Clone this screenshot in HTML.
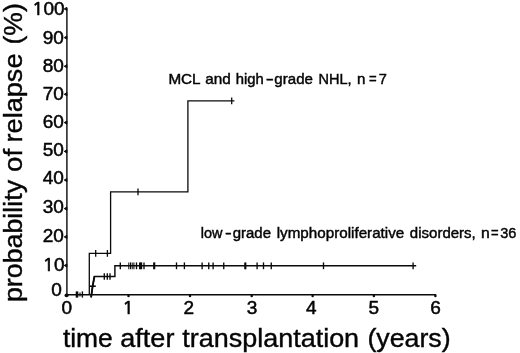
<!DOCTYPE html>
<html><head><meta charset="utf-8"><title>Probability of relapse</title>
<style>
html,body{margin:0;padding:0;background:#fff}
body{width:520px;height:353px;overflow:hidden}
svg{display:block}
</style></head><body>
<svg width="520" height="353" viewBox="0 0 520 353">
<rect width="520" height="353" fill="#fff"/>
<g fill="none" stroke="#0a0a0a" stroke-width="1.15" stroke-linecap="butt">
<path d="M66.9 8.2 V294.7 H436.2" stroke-width="1.4" stroke-linejoin="miter"/>
<path d="M89.3 295 V253.4 H110.6 V191.8 H187.9 V100.8 H234.4" stroke-width="1.3"/>
<path d="M95.7 250.0 V256.8" stroke-width="1.3"/>
<path d="M107.4 250.0 V256.8" stroke-width="1.3"/>
<path d="M138 188.4 V195.2" stroke-width="1.3"/>
<path d="M231.7 97.4 V104.2" stroke-width="1.3"/>
<path d="M91.1 297.4 L92.6 286.5 L94.4 276.5 H114.9 V265.8 H416.2" stroke-width="1.45"/>
<path d="M91.1 297.4 L92.6 286.5 L94.4 276.5" stroke-width="1.8"/>
<path d="M90 286.2 H95.8" stroke-width="1.6"/>
<path d="M77 291.4 V297.6" stroke-width="2.6"/>
<path d="M82.4 291.4 V297.6" stroke-width="1.4"/>
<path d="M80 292.6 V296.4"/>
<path d="M104.3 273.2 V279.8" stroke-width="1.35"/>
<path d="M107.3 273.2 V279.8" stroke-width="1.35"/>
<path d="M110 273.2 V279.8" stroke-width="1.35"/>
<path d="M128.8 262.4 V269.2" stroke-width="1.05"/>
<path d="M130.5 262.4 V269.2" stroke-width="1.05"/>
<path d="M132.2 262.4 V269.2" stroke-width="1.05"/>
<path d="M133.9 262.4 V269.2" stroke-width="1.05"/>
<path d="M120.3 262.4 V269.2" stroke-width="1.35"/>
<path d="M136.5 262.4 V269.2" stroke-width="1.35"/>
<path d="M139.7 262.4 V269.2" stroke-width="1.35"/>
<path d="M140.6 262.4 V269.2" stroke-width="1.35"/>
<path d="M141.5 262.4 V269.2" stroke-width="1.35"/>
<path d="M144 262.4 V269.2" stroke-width="1.35"/>
<path d="M153.8 262.4 V269.2" stroke-width="1.35"/>
<path d="M154.6 262.4 V269.2" stroke-width="1.35"/>
<path d="M176.5 262.4 V269.2" stroke-width="1.35"/>
<path d="M184.4 262.4 V269.2" stroke-width="1.35"/>
<path d="M202.1 262.4 V269.2" stroke-width="1.35"/>
<path d="M208.75 262.4 V269.2" stroke-width="1.35"/>
<path d="M213.1 262.4 V269.2" stroke-width="1.35"/>
<path d="M223.75 262.4 V269.2" stroke-width="1.35"/>
<path d="M244.9 262.4 V269.2" stroke-width="1.35"/>
<path d="M245.7 262.4 V269.2" stroke-width="1.35"/>
<path d="M257.1 262.4 V269.2" stroke-width="1.35"/>
<path d="M263.5 262.4 V269.2" stroke-width="1.35"/>
<path d="M271.25 262.4 V269.2" stroke-width="1.35"/>
<path d="M323.5 262.4 V269.2" stroke-width="1.35"/>
<path d="M413.1 262.4 V269.2" stroke-width="1.35"/>
</g>
<g fill="#0a0a0a">
<path d="M64.2 8.9 L66.9 7.30 V10.50 Z" stroke="#0a0a0a" stroke-width="0.9" stroke-linejoin="round"/>
<path d="M64.2 37.6 L66.9 36.00 V39.20 Z" stroke="#0a0a0a" stroke-width="0.9" stroke-linejoin="round"/>
<path d="M64.2 66.25 L66.9 64.65 V67.85 Z" stroke="#0a0a0a" stroke-width="0.9" stroke-linejoin="round"/>
<path d="M64.2 94.25 L66.9 92.65 V95.85 Z" stroke="#0a0a0a" stroke-width="0.9" stroke-linejoin="round"/>
<path d="M64.2 122.6 L66.9 121.00 V124.20 Z" stroke="#0a0a0a" stroke-width="0.9" stroke-linejoin="round"/>
<path d="M64.2 151.4 L66.9 149.80 V153.00 Z" stroke="#0a0a0a" stroke-width="0.9" stroke-linejoin="round"/>
<path d="M64.2 180.1 L66.9 178.50 V181.70 Z" stroke="#0a0a0a" stroke-width="0.9" stroke-linejoin="round"/>
<path d="M64.2 208.6 L66.9 207.00 V210.20 Z" stroke="#0a0a0a" stroke-width="0.9" stroke-linejoin="round"/>
<path d="M64.2 236.9 L66.9 235.30 V238.50 Z" stroke="#0a0a0a" stroke-width="0.9" stroke-linejoin="round"/>
<path d="M64.2 265.5 L66.9 263.90 V267.10 Z" stroke="#0a0a0a" stroke-width="0.9" stroke-linejoin="round"/>
<ellipse cx="128.5" cy="295.9" rx="1.25" ry="1.35"/>
<ellipse cx="190.0" cy="295.9" rx="1.25" ry="1.35"/>
<ellipse cx="251.7" cy="295.9" rx="1.25" ry="1.35"/>
<ellipse cx="312.6" cy="295.9" rx="1.25" ry="1.35"/>
<ellipse cx="373.9" cy="295.9" rx="1.25" ry="1.35"/>
<ellipse cx="435.4" cy="295.9" rx="1.25" ry="1.35"/>
<ellipse cx="66.6" cy="295.4" rx="2.1" ry="1.8"/>
</g>
<g fill="#050505" stroke="#050505" stroke-width="0.4" font-family="'Liberation Sans', Arial, sans-serif">
<text x="0" y="0" font-size="18.2" text-anchor="end" stroke-width="0.5" transform="translate(63.9 14.5) scale(1.045 1)"><tspan font-family="NanumGothic, 'Liberation Sans', sans-serif" stroke-width="0.75" dx="0.7">1</tspan>00</text>
<text x="0" y="0" font-size="18.2" text-anchor="end" stroke-width="0.5" transform="translate(63.9 44.2) scale(1.045 1)">90</text>
<text x="0" y="0" font-size="18.2" text-anchor="end" stroke-width="0.5" transform="translate(63.9 72.1) scale(1.045 1)">80</text>
<text x="0" y="0" font-size="18.2" text-anchor="end" stroke-width="0.5" transform="translate(63.9 99.5) scale(1.045 1)">70</text>
<text x="0" y="0" font-size="18.2" text-anchor="end" stroke-width="0.5" transform="translate(63.9 128.1) scale(1.045 1)">60</text>
<text x="0" y="0" font-size="18.2" text-anchor="end" stroke-width="0.5" transform="translate(63.9 156.0) scale(1.045 1)">50</text>
<text x="0" y="0" font-size="18.2" text-anchor="end" stroke-width="0.5" transform="translate(63.9 184.3) scale(1.045 1)">40</text>
<text x="0" y="0" font-size="18.2" text-anchor="end" stroke-width="0.5" transform="translate(63.9 213.4) scale(1.045 1)">30</text>
<text x="0" y="0" font-size="18.2" text-anchor="end" stroke-width="0.5" transform="translate(63.9 241.6) scale(1.045 1)">20</text>
<text x="0" y="0" font-size="18.2" text-anchor="end" stroke-width="0.5" transform="translate(63.9 270.6) scale(1.045 1)"><tspan font-family="NanumGothic, 'Liberation Sans', sans-serif" stroke-width="0.75" dx="0.7">1</tspan>0</text>
<text x="0" y="0" font-size="18.2" text-anchor="end" stroke-width="0.5" transform="translate(61.9 295.6) scale(1.045 1)">0</text>
<text x="0" y="0" font-size="18.2" text-anchor="middle" stroke-width="0.5" transform="translate(66.8 313.6) scale(1.045 1)">0</text>
<text x="0" y="0" font-size="18.2" text-anchor="middle" stroke-width="0.5" transform="translate(127.4 313.6) scale(1.045 1)"><tspan font-family="NanumGothic, 'Liberation Sans', sans-serif" stroke-width="0.75" dx="0.7">1</tspan></text>
<text x="0" y="0" font-size="18.2" text-anchor="middle" stroke-width="0.5" transform="translate(188.9 313.6) scale(1.045 1)">2</text>
<text x="0" y="0" font-size="18.2" text-anchor="middle" stroke-width="0.5" transform="translate(252.1 313.6) scale(1.045 1)">3</text>
<text x="0" y="0" font-size="18.2" text-anchor="middle" stroke-width="0.5" transform="translate(311.3 313.6) scale(1.045 1)">4</text>
<text x="0" y="0" font-size="18.2" text-anchor="middle" stroke-width="0.5" transform="translate(373.7 313.6) scale(1.045 1)">5</text>
<text x="0" y="0" font-size="18.2" text-anchor="middle" stroke-width="0.5" transform="translate(435.6 313.6) scale(1.045 1)">6</text>
<text x="0" y="0" font-size="26.3" transform="translate(62.90 346.5) scale(1.004 1)">time</text>
<text x="0" y="0" font-size="26.3" transform="translate(120.36 346.5) scale(1.027 1)">after</text>
<text x="0" y="0" font-size="26.3" transform="translate(182.30 346.5) scale(1.025 1)">transplantation</text>
<text x="0" y="0" font-size="26.3" transform="translate(367.45 346.5) scale(1.017 1)">(years)</text>
<text x="0" y="0" font-size="26.3" transform="translate(22.1 302.07) rotate(-90) scale(1.019 1)">probability</text>
<text x="0" y="0" font-size="26.3" transform="translate(22.1 171.90) rotate(-90) scale(1.053 1)">of</text>
<text x="0" y="0" font-size="26.3" transform="translate(22.1 142.49) rotate(-90) scale(1.032 1)">relapse</text>
<text x="0" y="0" font-size="26.3" transform="translate(22.1 44.54) rotate(-90) scale(1.010 1)">(%)</text>
<text x="0" y="0" font-size="15" stroke-width="0.45" transform="translate(168.41 84.10) scale(1.017 1)">MCL</text>
<text x="0" y="0" font-size="15" stroke-width="0.45" transform="translate(205.22 84.10) scale(1.020 1)">and</text>
<text x="0" y="0" font-size="15" stroke-width="0.45" transform="translate(235.73 84.10) scale(0.990 1)">high</text>
<text x="0" y="0" font-size="15" stroke-width="0.45" transform="translate(265.65 83.90) scale(1.612 1)">-</text>
<text x="0" y="0" font-size="15" stroke-width="0.45" transform="translate(274.37 84.10) scale(1.005 1)">grade</text>
<text x="0" y="0" font-size="15" stroke-width="0.45" transform="translate(318.45 84.10) scale(0.970 1)">NHL,</text>
<text x="0" y="0" font-size="15" stroke-width="0.45" transform="translate(357.07 84.10) scale(1.007 1)">n</text>
<text x="0" y="0" font-size="15" stroke-width="0.45" transform="translate(368.99 84.10) scale(0.873 1)">=</text>
<text x="0" y="0" font-size="15" stroke-width="0.45" transform="translate(378.64 84.10) scale(0.973 1)">7</text>
<text x="0" y="0" font-size="15" stroke-width="0.45" transform="translate(200.75 237.90) scale(0.965 1)">low</text>
<text x="0" y="0" font-size="15" stroke-width="0.45" transform="translate(225.10 238.10) scale(1.329 1)">-</text>
<text x="0" y="0" font-size="15" stroke-width="0.45" transform="translate(232.73 237.90) scale(0.998 1)">grade</text>
<text x="0" y="0" font-size="15" stroke-width="0.45" transform="translate(276.71 237.90) scale(1.014 1)">lymphoproliferative</text>
<text x="0" y="0" font-size="15" stroke-width="0.45" transform="translate(409.87 237.90) scale(1.000 1)">disorders,</text>
<text x="0" y="0" font-size="15" stroke-width="0.45" transform="translate(480.89 237.90) scale(1.050 1)">n</text>
<text x="0" y="0" font-size="15" stroke-width="0.45" transform="translate(490.99 237.90) scale(0.866 1)">=</text>
<text x="0" y="0" font-size="15" stroke-width="0.45" transform="translate(500.13 237.90) scale(0.969 1)">36</text>
</g></svg>
</body></html>
